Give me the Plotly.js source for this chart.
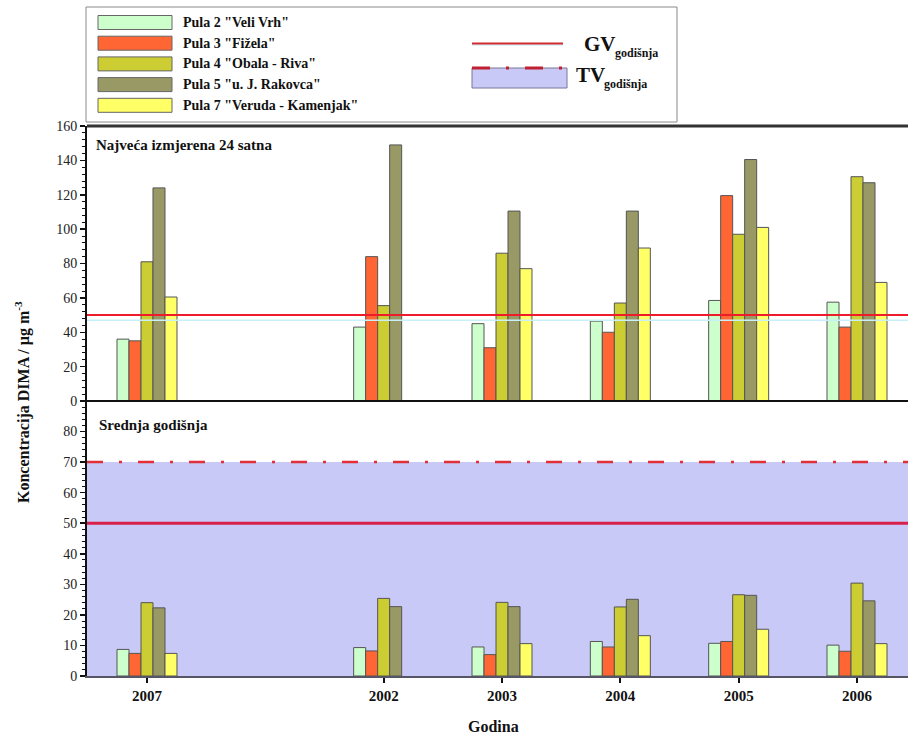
<!DOCTYPE html>
<html>
<head>
<meta charset="utf-8">
<script src="https://cdn.plot.ly/plotly-3.0.1.min.js"></script>
<style>html,body{margin:0;padding:0;background:#fff;}#chart{width:908px;height:737px;}</style>
</head>
<body>
<div id="chart"></div>
<script>
// ---- data ----
var categories = ['2007', ' ', '2002', '2003', '2004', '2005', '2006'];
var yearTicks = ['2007', '2002', '2003', '2004', '2005', '2006'];
var seriesNames = ['Pula 2 "Veli Vrh"', 'Pula 3 "Fižela"', 'Pula 4 "Obala - Riva"', 'Pula 5 "u. J. Rakovca"', 'Pula 7 "Veruda - Kamenjak"'];
var seriesColors = ['#ccffcc', '#ff6633', '#cccc33', '#999966', '#ffff66'];

// Najveća izmjerena 24 satna (max 24h)
var max24_pula2 = [36, null, 43, 45, 46.5, 58.5, 57.5];
var max24_pula3 = [35, null, 84, 31, 40, 119.5, 43];
var max24_pula4 = [81, null, 55.5, 86, 57, 97, 130.5];
var max24_pula5 = [124, null, 149, 110.5, 110.5, 140.5, 127];
var max24_pula7 = [60.5, null, null, 77, 89, 101, 69];

// Srednja godišnja (annual mean)
var annual_pula2 = [8.7, null, 9.3, 9.5, 11.3, 10.7, 10.1];
var annual_pula3 = [7.4, null, 8.2, 7.0, 9.5, 11.3, 8.1];
var annual_pula4 = [24.0, null, 25.4, 24.1, 22.6, 26.6, 30.4];
var annual_pula5 = [22.3, null, 22.7, 22.7, 25.1, 26.4, 24.6];
var annual_pula7 = [7.4, null, null, 10.6, 13.2, 15.3, 10.6];

var GV = 50;      // granična vrijednost
var TV = 70;      // tolerantna vrijednost
var GVlow = 47;   // faint companion line in top panel

var max24 = [max24_pula2, max24_pula3, max24_pula4, max24_pula5, max24_pula7];
var annual = [annual_pula2, annual_pula3, annual_pula4, annual_pula5, annual_pula7];

// ---- layout helpers (pixel -> paper) ----
var ML = 87, MR = 0, MT = 126, MB = 61, W = 908, H = 737;
var PW = W - ML - MR, PH = H - MT - MB;
function px(x) { return (x - ML) / PW; }
function py(y) { return (H - MB - y) / PH; }

var serif = 'Liberation Serif';

var traces = [];
for (var i = 0; i < seriesNames.length; i++) {
  traces.push({
    type: 'bar', x: categories, y: max24[i], name: seriesNames[i],
    xaxis: 'x', yaxis: 'y', showlegend: false,
    marker: {color: seriesColors[i], line: {color: '#555555', width: 1}},
    hoverinfo: 'x+y+name'
  });
}
for (var j = 0; j < seriesNames.length; j++) {
  traces.push({
    type: 'bar', x: categories, y: annual[j], name: seriesNames[j],
    xaxis: 'x', yaxis: 'y2', showlegend: false,
    marker: {color: seriesColors[j], line: {color: '#555555', width: 1}},
    hoverinfo: 'x+y+name'
  });
}

var shapes = [
  // bottom panel TV band
  {type: 'rect', xref: 'paper', yref: 'y2', x0: 0, x1: 1, y0: 0, y1: TV,
   fillcolor: '#c9c9f7', line: {width: 0}, layer: 'below'},
  {type: 'line', xref: 'paper', yref: 'y2', x0: 0, x1: 1, y0: TV, y1: TV,
   line: {color: '#e0303a', width: 2.5, dash: '16px,16px,3px,16px'}},
  {type: 'line', xref: 'paper', yref: 'y2', x0: 0, x1: 1, y0: GV, y1: GV,
   line: {color: '#d8204a', width: 3}},
  // top panel GV
  {type: 'line', xref: 'paper', yref: 'y', x0: 0, x1: 1, y0: GVlow, y1: GVlow,
   line: {color: '#c8f0fa', width: 1.5}},
  {type: 'line', xref: 'paper', yref: 'y', x0: 0, x1: 1, y0: GV, y1: GV,
   line: {color: '#ee1c2a', width: 2}},
  // panel borders
  {type: 'line', xref: 'paper', yref: 'paper', x0: 0, x1: 1, y0: 1, y1: 1,
   line: {color: '#333333', width: 3}},
  {type: 'line', xref: 'paper', yref: 'paper', x0: 0, x1: 1, y0: 0.5, y1: 0.5,
   line: {color: '#111111', width: 2}},
  // legend box
  {type: 'rect', xref: 'paper', yref: 'paper', x0: px(86), x1: px(677), y0: py(7), y1: py(122),
   fillcolor: '#ffffff', line: {color: '#8a8a8a', width: 1}},
  // GV legend line
  {type: 'line', xref: 'paper', yref: 'paper', x0: px(472), x1: px(563), y0: py(45), y1: py(45),
   line: {color: '#cfeff8', width: 1.5}},
  {type: 'line', xref: 'paper', yref: 'paper', x0: px(472), x1: px(563), y0: py(43.5), y1: py(43.5),
   line: {color: '#d22a30', width: 2}},
  // TV legend rect
  {type: 'rect', xref: 'paper', yref: 'paper', x0: px(472), x1: px(567), y0: py(68), y1: py(88),
   fillcolor: '#c9c9f7', line: {color: '#777799', width: 1}},
  {type: 'line', xref: 'paper', yref: 'paper', x0: px(472), x1: px(567), y0: py(68), y1: py(68),
   line: {color: '#c02030', width: 3, dash: '18px,16px,3px,16px'}}
];

var annotations = [
  {xref: 'paper', yref: 'paper', x: px(94), y: py(145), xanchor: 'left', yanchor: 'middle',
   text: '<b>Najveća izmjerena 24 satna</b>', showarrow: false,
   font: {family: serif, size: 15, color: '#111'}},
  {xref: 'paper', yref: 'paper', x: px(97), y: py(425), xanchor: 'left', yanchor: 'middle',
   text: '<b>Srednja godišnja</b>', showarrow: false,
   font: {family: serif, size: 15, color: '#111'}},
  {xref: 'paper', yref: 'paper', x: px(22), y: py(402), xanchor: 'center', yanchor: 'middle',
   text: '<b>Koncentracija DIMA / µg m<sup>-3</sup></b>', textangle: -90, showarrow: false,
   font: {family: serif, size: 16, color: '#111'}},
  {xref: 'paper', yref: 'paper', x: px(493), y: py(726), xanchor: 'center', yanchor: 'middle',
   text: '<b>Godina</b>', showarrow: false,
   font: {family: serif, size: 16, color: '#111'}},
  {xref: 'paper', yref: 'paper', x: px(582), y: py(44), xanchor: 'left', yanchor: 'middle',
   text: '<b>GV</b>', showarrow: false,
   font: {family: serif, size: 21, color: '#111'}},
  {xref: 'paper', yref: 'paper', x: px(613), y: py(53), xanchor: 'left', yanchor: 'middle',
   text: '<b>godišnja</b>', showarrow: false,
   font: {family: serif, size: 12, color: '#111'}},
  {xref: 'paper', yref: 'paper', x: px(574), y: py(75), xanchor: 'left', yanchor: 'middle',
   text: '<b>TV</b>', showarrow: false,
   font: {family: serif, size: 21, color: '#111'}},
  {xref: 'paper', yref: 'paper', x: px(602), y: py(84), xanchor: 'left', yanchor: 'middle',
   text: '<b>godišnja</b>', showarrow: false,
   font: {family: serif, size: 12, color: '#111'}}
];

// custom legend entries
for (var k = 0; k < seriesNames.length; k++) {
  var cy = 22.5 + k * 20.7;
  shapes.push({type: 'rect', xref: 'paper', yref: 'paper', x0: px(98), x1: px(172),
    y0: py(cy - 7), y1: py(cy + 7), fillcolor: seriesColors[k], line: {color: '#666666', width: 1}});
  annotations.push({xref: 'paper', yref: 'paper', x: px(181), y: py(cy), xanchor: 'left', yanchor: 'middle',
    text: '<b>' + seriesNames[k] + '</b>', showarrow: false,
    font: {family: serif, size: 14, color: '#111'}});
}

var layout = {
  width: W, height: H,
  margin: {l: ML, r: MR, t: MT, b: MB, pad: 0},
  paper_bgcolor: '#ffffff', plot_bgcolor: 'rgba(0,0,0,0)',
  barmode: 'group', bargap: 0.493, bargroupgap: 0,
  showlegend: false,
  font: {family: serif, size: 14, color: '#222'},
  xaxis: {
    type: 'category', categoryorder: 'array', categoryarray: categories,
    anchor: 'y2', range: [-0.507, 6.431],
    tickmode: 'array', tickvals: yearTicks, ticktext: yearTicks.map(function (t) { return '<b>' + t + '</b>'; }),
    ticks: 'outside', ticklen: 5, tickwidth: 2, tickcolor: '#111',
    showline: true, linecolor: '#555566', linewidth: 2,
    showgrid: false, zeroline: false,
    tickfont: {family: serif, size: 15, color: '#111'}
  },
  yaxis: {
    domain: [0.5, 1], range: [0, 160], anchor: 'x',
    tickmode: 'linear', tick0: 0, dtick: 20,
    ticks: 'outside', ticklen: 5, tickwidth: 1.5, tickcolor: '#111',
    minor: {dtick: 4, ticks: 'outside', ticklen: 3, tickcolor: '#111', tickwidth: 1},
    showline: true, linecolor: '#111', linewidth: 2,
    showgrid: false, zeroline: false,
    tickfont: {family: serif, size: 14, color: '#222'}
  },
  yaxis2: {
    domain: [0, 0.5], range: [0, 90], anchor: 'x',
    tickmode: 'array', tickvals: [0, 10, 20, 30, 40, 50, 60, 70, 80],
    ticks: 'outside', ticklen: 5, tickwidth: 1.5, tickcolor: '#111',
    minor: {dtick: 2, ticks: 'outside', ticklen: 3, tickcolor: '#111', tickwidth: 1},
    showline: true, linecolor: '#111', linewidth: 2,
    showgrid: false, zeroline: false,
    tickfont: {family: serif, size: 14, color: '#222'}
  },
  shapes: shapes,
  annotations: annotations
};

Plotly.newPlot('chart', traces, layout, {displayModeBar: false, staticPlot: true});
</script>
</body>
</html>
